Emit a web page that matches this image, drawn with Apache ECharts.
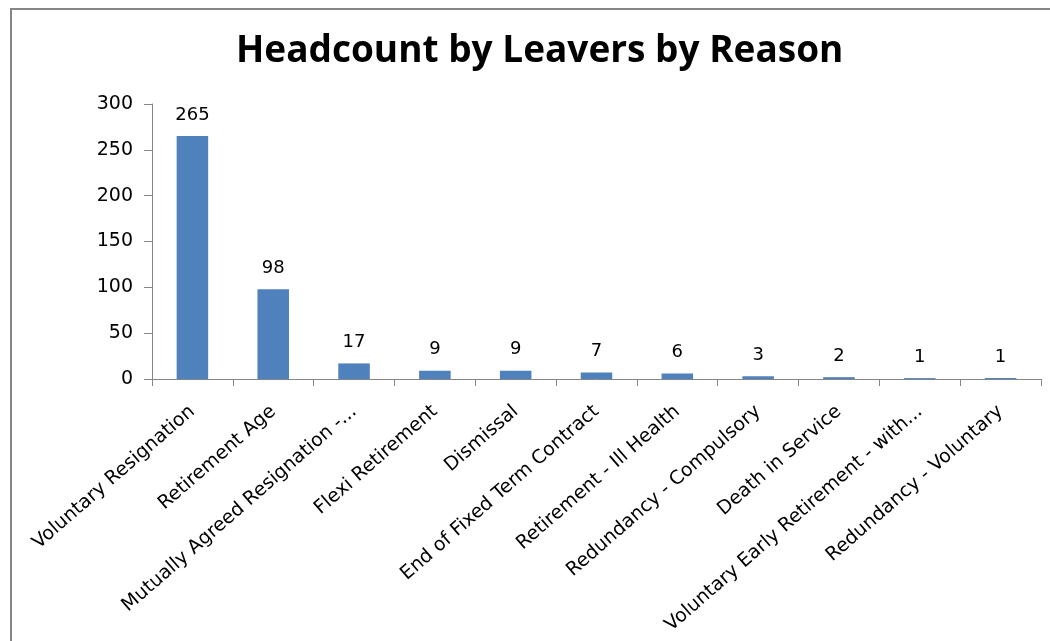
<!DOCTYPE html>
<html>
<head>
<meta charset="utf-8">
<script src="https://cdn.jsdelivr.net/npm/echarts@6/dist/echarts.min.js"></script>
<style>
html,body{margin:0;padding:0;background:#fff;}
#chart{width:1050px;height:641px;}
</style>
</head>
<body>
<div id="chart"></div>
<script>
const titleText = "Headcount by Leavers by Reason";
const categories = [
  "Voluntary Resignation",
  "Retirement Age",
  "Mutually Agreed Resignation -...",
  "Flexi Retirement",
  "Dismissal",
  "End of Fixed Term Contract",
  "Retirement - Ill Health",
  "Redundancy - Compulsory",
  "Death in Service",
  "Voluntary Early Retirement - with...",
  "Redundancy - Voluntary"
];
const values = [265, 98, 17, 9, 9, 7, 6, 3, 2, 1, 1];
const yMin = 0, yMax = 300, yStep = 50;

const font = "'DejaVu Sans', sans-serif";
const titleFont = "'Open Sans', 'Noto Sans', sans-serif";
const chart = echarts.init(document.getElementById('chart'), null, {renderer: 'canvas'});
chart.setOption({
  animation: false,
  backgroundColor: '#ffffff',
  graphic: [{
    type: 'rect',
    shape: {x: 11, y: 9, width: 1200, height: 800},
    style: {fill: 'none', stroke: '#868686', lineWidth: 2},
    silent: true
  }],
  title: {
    text: titleText,
    left: 231,
    top: 28,
    textStyle: {fontFamily: titleFont, fontWeight: 'bold', fontSize: 37, color: '#000'}
  },
  grid: {left: 152, right: 9, top: 104, bottom: 262, containLabel: false},
  xAxis: {
    type: 'category',
    data: categories,
    axisLine: {lineStyle: {color: '#868686', width: 1}},
    axisTick: {show: true, alignWithLabel: false, length: 7, lineStyle: {color: '#868686'}},
    axisLabel: {rotate: 41, interval: 0, margin: 30, fontFamily: font, fontSize: 19, color: '#000'}
  },
  yAxis: {
    type: 'value',
    min: yMin, max: yMax, interval: yStep,
    axisLine: {show: true, lineStyle: {color: '#868686', width: 1}},
    axisTick: {show: true, length: 8, lineStyle: {color: '#868686'}},
    splitLine: {show: false},
    axisLabel: {margin: 19, fontFamily: font, fontSize: 19, color: '#000'}
  },
  series: [{
    type: 'bar',
    data: values,
    barWidth: '39%',
    itemStyle: {color: '#4F81BD'},
    label: {show: true, position: 'top', distance: 12, fontFamily: font, fontSize: 18, color: '#000'}
  }]
});
</script>
</body>
</html>
